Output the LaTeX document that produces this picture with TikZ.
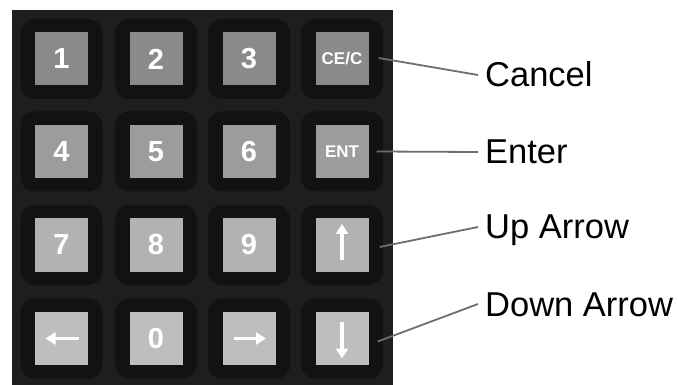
\documentclass[tikz,border=0pt]{standalone}
\usepackage{fontspec}
\setmainfont{Liberation Sans}
\usetikzlibrary{arrows.meta}
\definecolor{panel}{HTML}{1E1E1E}
\definecolor{well}{HTML}{121212}
\definecolor{keyA}{HTML}{8A8A8A}
\definecolor{keyB}{HTML}{9C9C9C}
\definecolor{keyC}{HTML}{B2B2B2}
\definecolor{keyD}{HTML}{BEBEBE}
\definecolor{leader}{HTML}{6E6E6E}
\tikzset{
  wellbox/.style={fill=well, rounded corners=14pt, minimum width=82pt, minimum height=80pt, inner sep=0pt},
  keybox/.style={minimum width=53pt, minimum height=53pt, inner sep=0pt, text=white,
     font=\fontsize{29}{29}\selectfont\bfseries},
  smallkey/.style={font=\fontsize{17}{17}\selectfont\bfseries},
  keyarrow/.style={white, line width=3.8pt, -{Triangle[width=12pt,length=10pt]}},
  leaderline/.style={leader, line width=1.8pt},
  label/.style={anchor=west, inner xsep=7pt, inner ysep=0pt, text height=24pt, text depth=0pt,
     font=\fontsize{34.5}{34.5}\selectfont}
}
\begin{document}
\begin{tikzpicture}[x=1pt,y=-1pt]
\useasboundingbox (0,0) rectangle (678,385);
\fill[white] (0,0) rectangle (678,385);
\fill[panel] (12,10) rectangle (393,385);
% wells
\foreach \x/\c in {61.5/1,156/2,249/3,342/4}{
  \foreach \y/\r in {59/1,151.5/2,245/3,338.5/4}{
    \node[wellbox] (w\r\c) at (\x,\y) {};
  }
}
% row 1
\node[keybox, fill=keyA] (k1) at (61.5,59) {1};
\node[keybox, fill=keyA] (k2) at (156,59) {2};
\node[keybox, fill=keyA] (k3) at (249,59) {3};
\node[keybox, smallkey, fill=keyA] (kce) at (342,59) {CE/C};
% row 2
\node[keybox, fill=keyB] (k4) at (61.5,151.5) {4};
\node[keybox, fill=keyB] (k5) at (156,151.5) {5};
\node[keybox, fill=keyB] (k6) at (249,151.5) {6};
\node[keybox, smallkey, fill=keyB] (kent) at (342,151.5) {ENT};
% row 3
\node[keybox, fill=keyC] (k7) at (61.5,245) {7};
\node[keybox, fill=keyC] (k8) at (156,245) {8};
\node[keybox, fill=keyC] (k9) at (249,245) {9};
\node[keybox, fill=keyC] (kup) at (342,245) {};
% row 4
\node[keybox, fill=keyD] (kleft) at (61.5,338.5) {};
\node[keybox, fill=keyD] (k0) at (156,338.5) {0};
\node[keybox, fill=keyD] (kright) at (249,338.5) {};
\node[keybox, fill=keyD] (kdown) at (342,338.5) {};
% key arrows
\draw[keyarrow] ([yshift=-15pt]kup.center) -- ([yshift=21pt]kup.center);
\draw[keyarrow] ([yshift=17pt]kdown.center) -- ([yshift=-20pt]kdown.center);
\draw[keyarrow] ([xshift=17pt]kleft.center) -- ([xshift=-16pt]kleft.center);
\draw[keyarrow] ([xshift=-15pt]kright.center) -- ([xshift=17pt]kright.center);
% labels
\node[label] (lcancel) at (478,75) {Cancel};
\node[label] (lenter) at (478,152) {Enter};
\node[label] (lup) at (478,227) {Up Arrow};
\node[label] (ldown) at (478,304) {Down Arrow};
% leaders
\draw[leaderline] ([xshift=10pt,yshift=1pt]kce.east) -- (lcancel.west);
\draw[leaderline] ([xshift=8pt]kent.east) -- (lenter.west);
\draw[leaderline] ([xshift=11pt,yshift=-2pt]kup.east) -- (lup.west);
\draw[leaderline] ([xshift=9pt,yshift=-3pt]kdown.east) -- (ldown.west);
\end{tikzpicture}
\end{document}
